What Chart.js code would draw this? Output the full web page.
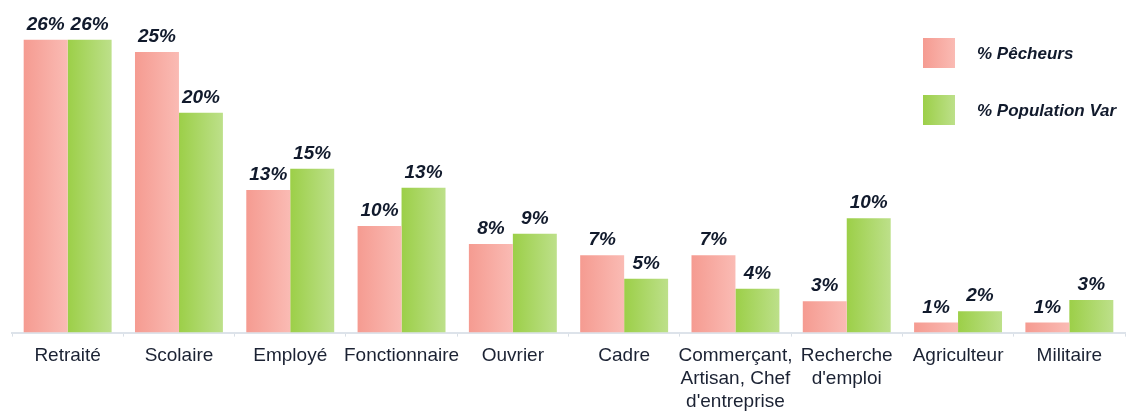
<!DOCTYPE html>
<html>
<head>
<meta charset="utf-8">
<script src="https://cdn.jsdelivr.net/npm/chart.js@4.4.0/dist/chart.umd.min.js"></script>
<style>
  html, body { margin: 0; padding: 0; background: #ffffff; }
  #wrap { width: 1133px; height: 413px; position: relative; }
</style>
</head>
<body>
<div id="wrap"><canvas id="c" width="1133" height="413"></canvas></div>
<script>
const categories = [
  "Retraité", "Scolaire", "Employé", "Fonctionnaire", "Ouvrier", "Cadre",
  ["Commerçant,", "Artisan, Chef", "d'entreprise"], ["Recherche", "d'emploi"],
  "Agriculteur", "Militaire"
];
const seriesNames = ["% Pêcheurs", "% Population Var"];
const pecheurs = [26.1, 25, 12.7, 9.5, 7.9, 6.9, 6.9, 2.8, 0.9, 0.9];
const populationVar = [26.1, 19.6, 14.6, 12.9, 8.8, 4.8, 3.9, 10.2, 1.9, 2.9];
const pecheursLabels = ["26%", "25%", "13%", "10%", "8%", "7%", "7%", "3%", "1%", "1%"];
const populationLabels = ["26%", "20%", "15%", "13%", "9%", "5%", "4%", "10%", "2%", "3%"];

const PINK = ["#f59b91", "#fabbb4"];
const GREEN = ["#9ccf48", "#bde08a"];
const CAT_PCT = 0.79;

function barGradient(ctx, cols, side) {
  const chart = ctx.chart;
  const xs = chart.scales && chart.scales.x;
  if (ctx.type !== 'data' || !xs || !chart.chartArea) return cols[0];
  const center = xs.getPixelForValue(ctx.dataIndex);
  const bw = (xs.width / categories.length) * CAT_PCT / 2;
  const x0 = side < 0 ? center - bw : center;
  const g = chart.ctx.createLinearGradient(x0, 0, x0 + bw, 0);
  g.addColorStop(0, cols[0]);
  g.addColorStop(1, cols[1]);
  return g;
}

const valueLabels = {
  id: 'valueLabels',
  afterDatasetsDraw(chart) {
    const c = chart.ctx;
    const texts = [pecheursLabels, populationLabels];
    c.save();
    c.font = "italic bold 19px 'Liberation Sans', Arial, sans-serif";
    c.fillStyle = "#111a2c";
    c.textAlign = "center";
    c.textBaseline = "alphabetic";
    chart.data.datasets.forEach((ds, di) => {
      const meta = chart.getDatasetMeta(di);
      meta.data.forEach((bar, i) => {
        c.fillText(texts[di][i], bar.x, bar.y - 10);
      });
    });
    c.restore();
  }
};

const customLegend = {
  id: 'customLegend',
  afterDraw(chart) {
    const c = chart.ctx;
    const cols = [PINK, GREEN];
    const ys = [38, 95];
    c.save();
    chart.data.datasets.forEach((ds, di) => {
      const x = 923, y = ys[di], w = 32, h = 30;
      const g = c.createLinearGradient(x, 0, x + w, 0);
      g.addColorStop(0, cols[di][0]);
      g.addColorStop(1, cols[di][1]);
      c.fillStyle = g;
      c.fillRect(x, y, w, h);
      c.font = "italic bold 17px 'Liberation Sans', Arial, sans-serif";
      c.fillStyle = "#111a2c";
      c.textAlign = "left";
      c.textBaseline = "middle";
      c.fillText(ds.label, 977, y + h / 2 + 1);
    });
    c.restore();
  }
};

new Chart(document.getElementById('c'), {
  type: 'bar',
  data: {
    labels: categories,
    datasets: [
      {
        label: seriesNames[0],
        data: pecheurs,
        backgroundColor: (ctx) => barGradient(ctx, PINK, -1),
        borderWidth: 0,
        categoryPercentage: CAT_PCT,
        barPercentage: 1
      },
      {
        label: seriesNames[1],
        data: populationVar,
        backgroundColor: (ctx) => barGradient(ctx, GREEN, 1),
        borderWidth: 0,
        categoryPercentage: CAT_PCT,
        barPercentage: 1
      }
    ]
  },
  options: {
    responsive: false,
    animation: false,
    devicePixelRatio: 1,
    layout: { padding: { left: 12, right: 8, top: 5, bottom: -8 } },
    plugins: {
      legend: { display: false },
      tooltip: { enabled: false }
    },
    scales: {
      x: {
        offset: true,
        grid: {
          display: true,
          offset: true,
          drawOnChartArea: false,
          drawTicks: true,
          tickLength: 4,
          color: '#d9dfe6',
          lineWidth: 1
        },
        border: { display: true, color: '#dde3ea', width: 2 },
        ticks: {
          padding: 8,
          maxRotation: 0,
          autoSkip: false,
          color: '#1b2233',
          font: { family: "'Liberation Sans', Arial, sans-serif", size: 19, lineHeight: 1.2 }
        }
      },
      y: {
        display: false,
        min: 0,
        max: 29.2
      }
    }
  },
  plugins: [valueLabels, customLegend]
});
</script>
</body>
</html>
